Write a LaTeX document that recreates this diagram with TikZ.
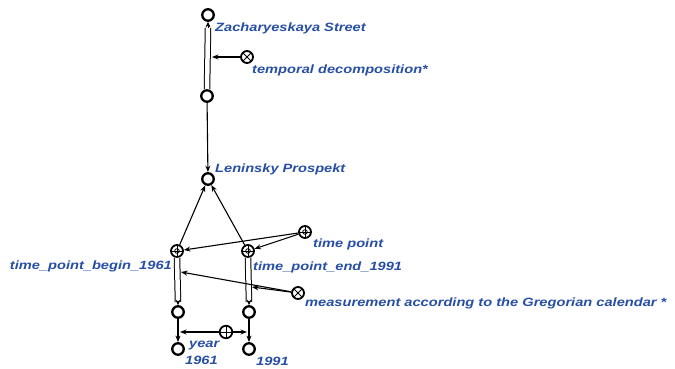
\documentclass[tikz,border=0pt]{standalone}
\usepackage{fontspec}
\usetikzlibrary{arrows.meta,calc}
\newfontfamily\lblfont{Liberation Sans}[FakeStretch=1.22]
\definecolor{lblblue}{RGB}{38,78,165}
\begin{document}
\begin{tikzpicture}[x=1pt,y=-1pt,
  lbl/.style={text=lblblue, font=\lblfont\bfseries\itshape\fontsize{12}{14}\selectfont, inner sep=0pt, anchor=base west},
  obj/.style={circle, draw, line width=2.3pt, minimum size=11.5pt, inner sep=0pt},
  relx/.style={circle, draw, line width=1.8pt, minimum size=12pt, inner sep=0pt,
    path picture={\draw[line width=1pt] (path picture bounding box.center) +(-4,-4) -- +(4,4) +(-4,4) -- +(4,-4);}},
  relp/.style={circle, draw, line width=1.8pt, minimum size=12pt, inner sep=0pt,
    path picture={\draw[line width=1pt] (path picture bounding box.center) +(-6,0) -- +(6,0) +(0,-6) -- +(0,6);
      \draw[line width=0.8pt] (path picture bounding box.center) circle (2.3pt);}},
  relplus/.style={circle, draw, line width=1.8pt, minimum size=12.5pt, inner sep=0pt,
    path picture={\draw[line width=1pt] (path picture bounding box.center) +(-6,0) -- +(6,0) +(0,-6) -- +(0,6);}},
  arr/.style={line width=1.1pt, -{Stealth[length=6.5pt,width=5pt]}},
  hollow/.style={double, double distance=4.5pt, line width=1pt},
  tip/.style={line width=0.8pt, -{Stealth[length=5.5pt,width=5pt]}}
]
\useasboundingbox (0,0) rectangle (675,369);
% nodes
\node[obj] (z) at (208,15) {};
\node[obj] (d1) at (207,96) {};
\node[relx] (td) at (247,57) {};
\node[obj] (len) at (208,179) {};
\node[relp] (beg) at (177,251) {};
\node[relp] (end) at (248,251) {};
\node[relp] (tp) at (305,232) {};
\node[relx] (meas) at (298,293) {};
\node[obj] (c1) at (178,312) {};
\node[obj] (c2) at (249,312) {};
\node[obj] (b1) at (178,349) {};
\node[obj] (b2) at (249,349) {};
\node[relplus] (pl) at (226,332) {};
% coordinates
\coordinate (ztop) at (208,28);
\coordinate (h1) at (212,57);
\coordinate (btop) at (178,302);
\coordinate (etop) at (249,302);
\coordinate (hb) at (181,272);
\coordinate (he) at (252,287);
\coordinate (m1) at (180,332);
\coordinate (m2) at (247,332);
% hollow arrows
\draw[hollow] (d1.north) -- (ztop);
\draw[tip] (ztop) -- (z.south);
\draw[hollow] (beg.south) -- (btop);
\draw[tip] (btop) -- (c1.north);
\draw[hollow] (end.south) -- (etop);
\draw[tip] (etop) -- (c2.north);
% connectors
\draw[arr] (td) -- (h1);
\draw[arr] (d1) -- (len);
\draw[arr] (beg) -- (len);
\draw[arr] (end) -- (len);
\draw[arr] (tp) -- (beg);
\draw[arr] (tp) -- (end);
\draw[arr] (meas) -- (hb);
\draw[arr] (meas) -- (he);
\draw[arr] (c1) -- (b1);
\draw[arr] (c2) -- (b2);
\draw[arr] (pl) -- (m1);
\draw[arr] (pl) -- (m2);
% labels
\node[lbl] (lz) at (215,32) {Zacharyeskaya Street};
\node[lbl] (ltd) at (252,74) {temporal decomposition*};
\node[lbl] (llen) at (215,172) {Leninsky Prospekt};
\node[lbl] (ltp) at (313,247) {time point};
\node[lbl, anchor=base east] (lbeg) at (172,269) {time\_point\_begin\_1961};
\node[lbl] (lend) at (253,270) {time\_point\_end\_1991};
\node[lbl] (lmeas) at (305,306) {measurement according to the Gregorian calendar *};
\node[lbl] (lyear) at (189,347) {year};
\node[lbl] (l61) at (185,364) {1961};
\node[lbl] (l91) at (256,365) {1991};
\end{tikzpicture}
\end{document}
